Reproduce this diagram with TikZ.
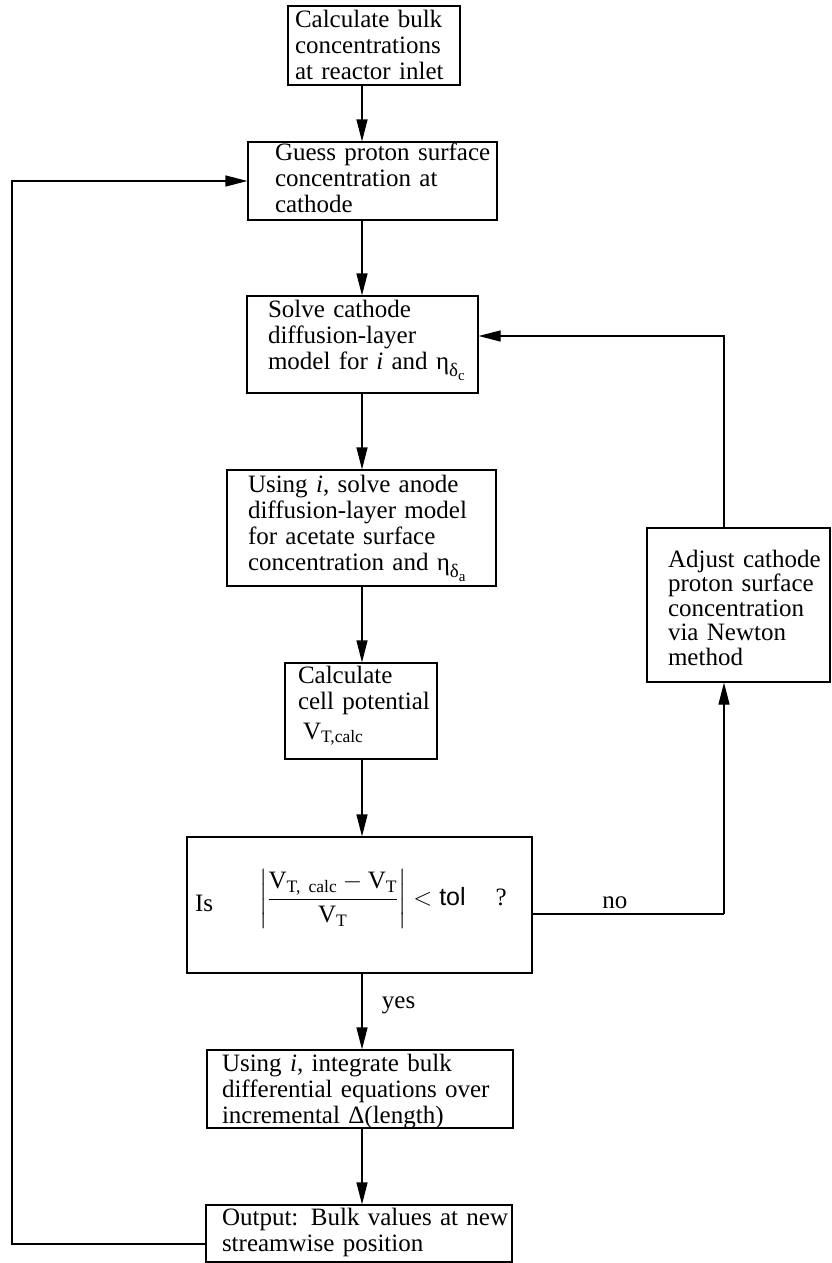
\documentclass[tikz,border=0pt]{standalone}
\usepackage{amsmath}
\usepackage{fontspec}
\setmainfont{Liberation Serif}
\setsansfont{Liberation Sans}
\usetikzlibrary{arrows.meta}

% text lines inside a box, shifted in from the left edge (and up or down)
\newcommand{\boxlines}[3][0pt]{\hspace*{#2}\raisebox{#1}[\height][\depth]{\begin{tabular}[c]{@{}l@{}}#3\end{tabular}}}
% eta with a subscripted delta
\newcommand{\etadelta}[1]{η\raisebox{-7pt}{\fontsize{19}{19}\selectfont δ\raisebox{-4pt}{\fontsize{15}{15}\selectfont #1}}}

\begin{document}
\begin{tikzpicture}[x=1pt,y=-1pt,
    font=\fontsize{25}{26}\selectfont,
    box/.style={draw, line width=1.2pt, inner sep=0pt, align=left},
    arr/.style={line width=1.2pt, -{Triangle[length=22pt,width=11pt]}}]
   \useasboundingbox (0,0) rectangle (831,1263);

   \node[box, text width=172pt, minimum height=79pt] (inlet) at (374,45.5)
      {\boxlines[-3pt]{7pt}{Calculate bulk\\concentrations\\at reactor inlet}};
   \node[box, text width=249pt, minimum height=78pt] (guess) at (372.5,181)
      {\boxlines{27pt}{Guess proton surface\\concentration at\\cathode}};
   \node[box, text width=231pt, minimum height=97pt] (cathode) at (362.5,344.5)
      {\boxlines[5pt]{21pt}{Solve cathode\\diffusion-layer\\model for \textit{i} and \etadelta{c}}};
   \node[box, text width=269pt, minimum height=116pt] (anode) at (361.5,528)
      {\boxlines{21pt}{Using \textit{i}, solve anode\\diffusion-layer model\\for acetate surface\\concentration and \etadelta{a}}};
   \node[box, text width=152pt, minimum height=96pt] (cellpot) at (361,711)
      {\boxlines[5pt]{13pt}{Calculate\\cell potential\\[4pt]\hspace{5pt}$\text{V}_{\text{T,calc}}$}};
   \node[box, text width=345pt, minimum height=136pt] (test) at (359.5,905)
      {\boxlines{8pt}{Is\hspace{46pt}\raisebox{6pt}[\height][\depth]{$\left|\dfrac{\text{V}_{\text{T, calc}}-\text{V}_{\text{T}}}{\text{V}_{\text{T}}}\right| < \text{\sffamily tol}$\hspace{30pt}?}}};
   \node[box, text width=306pt, minimum height=76pt] (integrate) at (360,1089)
      {\boxlines[-3pt]{15pt}{Using \textit{i}, integrate bulk\\differential equations over\\incremental Δ(length)}};
   \node[box, text width=306pt, minimum height=57pt] (output) at (359,1233.5)
      {\boxlines{16pt}{Output: Bulk values at new\\streamwise position}};
   \node[box, text width=183pt, minimum height=154pt] (adjust) at (738.5,605)
      {\boxlines[-6pt]{21pt}{Adjust cathode\\[-1.5pt]proton surface\\[-1.5pt]concentration\\[-1.5pt]via Newton\\[-1.5pt]method}};

   % main column
   \coordinate (col) at (362,0);
   \foreach \a/\b in {inlet/guess, guess/cathode, cathode/anode, anode/cellpot, cellpot/test, integrate/output}
      \draw[arr] (\a.south -| col) -- (\b.north -| col);
   \draw[arr] (test.south -| col) -- node[pos=0.42, right=16pt] {yes} (integrate.north -| col);

   % Newton loop
   \coordinate (nocorner) at (724,914);
   \coordinate (topcorner) at (724,336);
   \draw[line width=1.2pt] (test.east |- nocorner) -- node[pos=0.43, above, inner sep=5pt] {no} (nocorner);
   \draw[arr] (nocorner) -- (adjust.south -| nocorner);
   \draw[arr] (adjust.north -| nocorner) -- (topcorner) -- (cathode.east |- topcorner);

   % back to the guess
   \coordinate (leftcorner) at (12,1244);
   \draw[arr] (output.west |- leftcorner) -- (leftcorner) |- (guess.west);
\end{tikzpicture}
\end{document}
